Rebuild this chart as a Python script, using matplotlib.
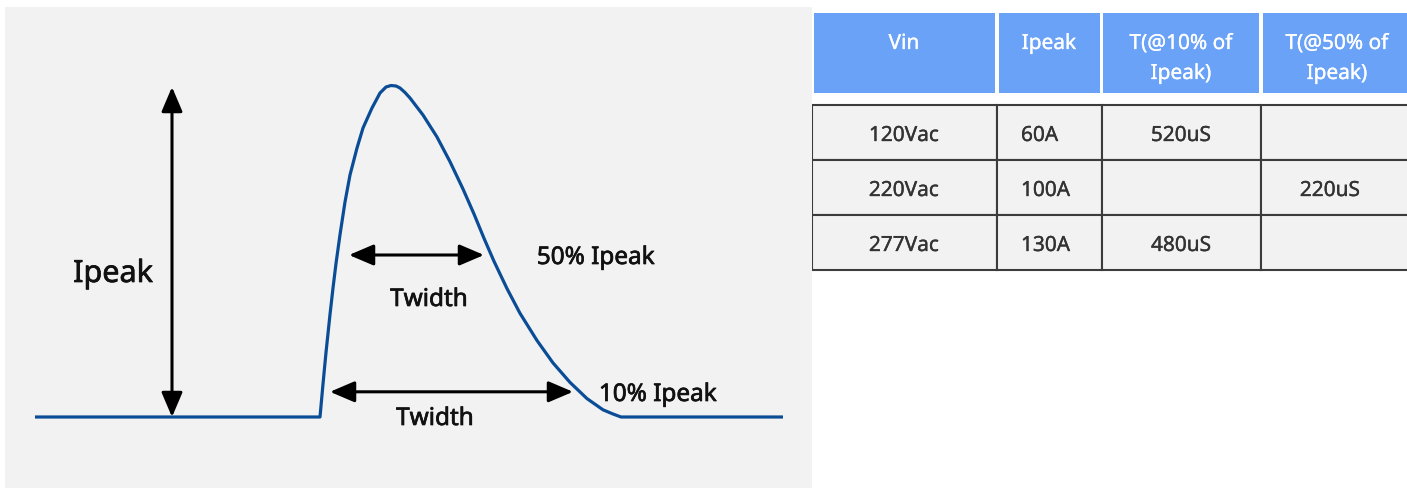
import matplotlib
matplotlib.use("Agg")
import matplotlib.pyplot as plt
import matplotlib.patheffects as pe
from matplotlib.patches import Rectangle

W, H = 1407, 489
plt.rcParams['font.family'] = ['Noto Sans', 'DejaVu Sans']

# surge waveform (t in px, i given as pixel row)
wave_t = [35, 320, 323, 326, 330, 333, 336, 340, 345, 350, 357, 363, 372, 380,
          386, 391, 396, 400, 405, 410, 423, 437, 450, 463, 474, 484, 494, 507,
          520, 537, 553, 570, 587, 603, 613, 621, 783]
wave_y = [418, 418, 385, 353.5, 315.5, 289, 264.5, 235.7, 203, 176, 149, 129,
          109, 94, 88, 86.5, 87, 89, 93.5, 99, 116, 138, 162.7, 190, 215,
          239.3, 262.3, 289.6, 314.3, 341.5, 363.9, 383.4, 399.6, 410.8, 415,
          418, 418]
base_y, peak_y = 418, 86
wave_i = [(base_y - y) / (base_y - peak_y) for y in wave_y]

# width markers: level, start, end
levels = [0.5, 0.1]
w_start = [349, 330]
w_end = [484, 573]
ipeak_x = 172

# table
columns = ["Vin", "Ipeak", "T(@10% of\nIpeak)", "T(@50% of\nIpeak)"]
vin = ["120Vac", "220Vac", "277Vac"]
ipeak = ["60A", "100A", "130A"]
t10 = ["520uS", "", "480uS"]
t50 = ["", "220uS", ""]

fig = plt.figure(figsize=(W / 100, H / 100), dpi=100)
fig.patch.set_facecolor("white")

# ---- left: waveform diagram
ax = fig.add_axes([5 / W, 0, (812 - 5) / W, (H - 8) / H])
ax.set_facecolor("#f2f2f2")
for s in ax.spines.values():
    s.set_visible(False)
ax.set_xticks([])
ax.set_yticks([])
span = base_y - peak_y
ax.set_xlim(5, 812)
ax.set_ylim(-(H - base_y) / span, (base_y - 8) / span)

ax.plot(wave_t, wave_i, color="#0a4d96", lw=2.3, solid_joinstyle="round",
        solid_capstyle="butt")

arrow = dict(arrowstyle="<|-|>,head_length=0.75,head_width=0.32",
             color="black", lw=2.2, shrinkA=0, shrinkB=0, mutation_scale=20)
ax.annotate("", xy=(ipeak_x, 1.0 - 2 / span), xytext=(ipeak_x, 0),
            arrowprops=arrow)
for lv, a, b in zip(levels, w_start, w_end):
    yv = lv - 4 / span if lv == 0.5 else lv - 8 / span
    ax.annotate("", xy=(b, yv), xytext=(a, yv), arrowprops=arrow)

bold = [pe.withStroke(linewidth=0.5, foreground="#111111")]
txt = dict(color="#111111", ha="center", va="baseline", path_effects=bold)
def ypix(y):
    return (base_y - y) / span
ax.text(113, ypix(283), "Ipeak", fontsize=22, **txt)
ax.text(596, ypix(265), "50% Ipeak", fontsize=17.5, **txt)
ax.text(429, ypix(307), "Twidth", fontsize=17.5, **txt)
ax.text(658, ypix(402), "10% Ipeak", fontsize=17.5, **txt)
ax.text(435, ypix(426), "Twidth", fontsize=17.5, **txt)

# ---- right: table
at = fig.add_axes([812 / W, 0, (W - 812) / W, 1])
at.set_xlim(812, W)
at.set_ylim(H, 0)
at.axis("off")

col_edges = [812, 997, 1101.5, 1261, 1430]
col_center = [904, 1049, 1181, 1337]
head_top, head_bot = 14, 94
row_edges = [106, 161, 216, 271]

for j, name in enumerate(columns):
    x0, x1 = col_edges[j] + 1.5, col_edges[j + 1] - 2
    at.add_patch(Rectangle((x0, head_top), x1 - x0, head_bot - head_top,
                           facecolor="#6aa2f8", edgecolor="none"))
    for k, line in enumerate(name.split("\n")):
        at.text(col_center[j], 50 + 30 * k, line, color="white", fontsize=15,
                ha="center", va="baseline",
                path_effects=[pe.withStroke(linewidth=0.2, foreground="white")])

body_fx = [pe.withStroke(linewidth=0.25, foreground="#333333")]
cells = list(zip(vin, ipeak, t10, t50))
for r, row in enumerate(cells):
    y0, y1 = row_edges[r], row_edges[r + 1]
    for j, val in enumerate(row):
        x0, x1 = col_edges[j], col_edges[j + 1]
        at.add_patch(Rectangle((x0, y0), x1 - x0, y1 - y0, facecolor="#f2f2f2",
                               edgecolor="#3c3c3c", lw=1.5))
        if not val:
            continue
        if j == 1:
            at.text(1021, y0 + 36, val, color="#333333", fontsize=15,
                    ha="left", va="baseline", path_effects=body_fx)
        else:
            cx = col_center[j] if j != 3 else 1330
            at.text(cx, y0 + 36, val, color="#333333", fontsize=15,
                    ha="center", va="baseline", path_effects=body_fx)

fig.savefig("out.png", dpi=100)
